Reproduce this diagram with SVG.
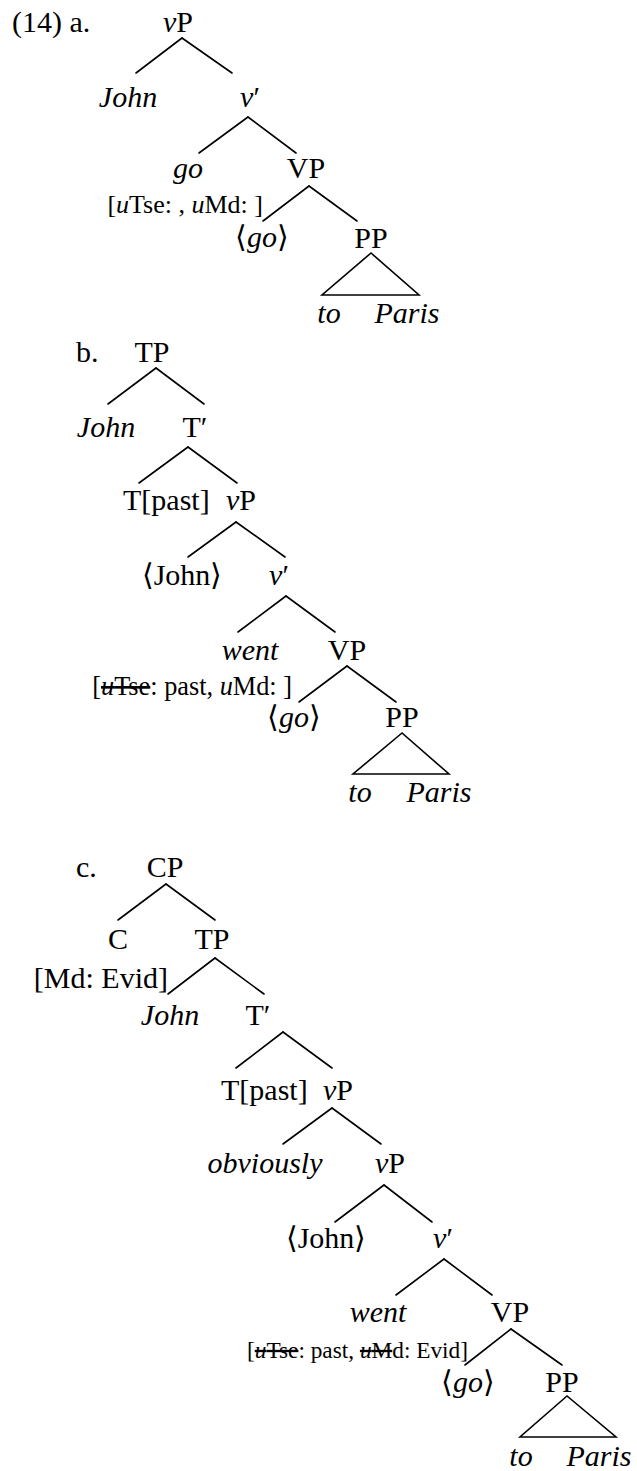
<svg xmlns="http://www.w3.org/2000/svg" width="637" height="1471" viewBox="0 0 637 1471">
<style>
text{font-family:"Liberation Serif","Times New Roman",serif;font-size:30px;fill:#000}
.m{text-anchor:middle}
.e{text-anchor:end}
.i{font-style:italic}
.f{font-size:26px}
.s{text-decoration:line-through}
.c line,.c polygon{stroke:#000;stroke-width:1.6;fill:none;stroke-linecap:round}
</style>
<rect width="637" height="1471" fill="#fff"/>
<g id="labels">
<text x="12" y="32">(14) a.</text>
<text x="76" y="362">b.</text>
<text x="76" y="877">c.</text>
</g>
<g id="tree-a">
<g id="a-vP"><text class="m" x="178" y="32"><tspan class="i">v</tspan>P</text></g>
<g id="a-John"><text class="m i" x="128" y="107">John</text></g>
<g id="a-vbar"><text class="m" x="250" y="107"><tspan class="i">v</tspan>′</text></g>
<g id="a-go"><text class="m i" x="188" y="178">go</text><text class="e f" x="263" y="213">[<tspan class="i">u</tspan>Tse: , <tspan class="i">u</tspan>Md: ]</text></g>
<g id="a-VP"><text class="m" x="306" y="178">VP</text></g>
<g id="a-trace"><text class="m" x="262" y="247">⟨<tspan class="i">go</tspan>⟩</text></g>
<g id="a-PP"><text class="m" x="371" y="248">PP</text></g>
<g id="a-toParis"><text class="m i" x="329" y="323">to</text><text class="m i" x="407" y="323">Paris</text></g>
</g>
<g id="tree-b">
<g id="b-TP"><text class="m" x="152" y="362">TP</text></g>
<g id="b-John"><text class="m i" x="106" y="437">John</text></g>
<g id="b-Tbar"><text class="m" x="195" y="437">T′</text></g>
<g id="b-Tpast"><text x="123" y="510">T[past]</text></g>
<g id="b-vP"><text x="226" y="510"><tspan class="i">v</tspan>P</text></g>
<g id="b-Johntrace"><text class="m" x="182" y="585">⟨John⟩</text></g>
<g id="b-vbar"><text class="m" x="279" y="585"><tspan class="i">v</tspan>′</text></g>
<g id="b-went"><text class="m i" x="250" y="660">went</text><text class="e f" x="292" y="695" style="font-size:26.3px">[<tspan class="s"><tspan class="i">u</tspan>Tse</tspan>: past, <tspan class="i">u</tspan>Md: ]</text></g>
<g id="b-VP"><text class="m" x="347" y="660">VP</text></g>
<g id="b-trace"><text class="m" x="294" y="727">⟨<tspan class="i">go</tspan>⟩</text></g>
<g id="b-PP"><text class="m" x="402" y="727">PP</text></g>
<g id="b-toParis"><text class="m i" x="360" y="802">to</text><text class="m i" x="439" y="802">Paris</text></g>
</g>
<g id="tree-c">
<g id="c-CP"><text class="m" x="165" y="877">CP</text></g>
<g id="c-C"><text class="m" x="118" y="949">C</text><text class="e" x="168" y="988">[Md: Evid]</text></g>
<g id="c-TP"><text class="m" x="212" y="949">TP</text></g>
<g id="c-John"><text class="m i" x="170" y="1025">John</text></g>
<g id="c-Tbar"><text class="m" x="258" y="1025">T′</text></g>
<g id="c-Tpast"><text x="221" y="1100">T[past]</text></g>
<g id="c-vP1"><text x="323" y="1100"><tspan class="i">v</tspan>P</text></g>
<g id="c-obviously"><text class="m i" x="265" y="1173">obviously</text></g>
<g id="c-vP2"><text class="m" x="390" y="1173"><tspan class="i">v</tspan>P</text></g>
<g id="c-Johntrace"><text class="m" x="326" y="1248">⟨John⟩</text></g>
<g id="c-vbar"><text class="m" x="443" y="1248"><tspan class="i">v</tspan>′</text></g>
<g id="c-went"><text class="m i" x="378" y="1322">went</text><text class="e f" x="468" y="1358" style="font-size:23.3px">[<tspan class="s"><tspan class="i">u</tspan>Tse</tspan>: past, <tspan class="s"><tspan class="i">u</tspan>M</tspan>d: Evid]</text></g>
<g id="c-VP"><text class="m" x="510" y="1322">VP</text></g>
<g id="c-trace"><text class="m" x="468" y="1392">⟨<tspan class="i">go</tspan>⟩</text></g>
<g id="c-PP"><text class="m" x="562" y="1392">PP</text></g>
<g id="c-toParis"><text class="m i" x="521" y="1466">to</text><text class="m i" x="599" y="1466">Paris</text></g>
</g>
<g id="connectors" class="c">
<line x1="182" y1="38" x2="136" y2="73"/><line x1="182" y1="38" x2="232" y2="73"/>
<line x1="248" y1="117" x2="199" y2="153"/><line x1="248" y1="117" x2="296" y2="153"/>
<line x1="309" y1="186" x2="263" y2="221"/><line x1="309" y1="186" x2="357" y2="221"/>
<polygon points="371,253 322,295 419,295"/>
<line x1="156" y1="368" x2="108" y2="404"/><line x1="156" y1="368" x2="204" y2="404"/>
<line x1="188" y1="447" x2="139" y2="483"/><line x1="188" y1="447" x2="237" y2="483"/>
<line x1="236" y1="522" x2="188" y2="557"/><line x1="236" y1="522" x2="285" y2="557"/>
<line x1="286" y1="596" x2="238" y2="632"/><line x1="286" y1="596" x2="335" y2="632"/>
<line x1="347" y1="666" x2="299" y2="702"/><line x1="347" y1="666" x2="396" y2="702"/>
<polygon points="402,733 353,774 449,774"/>
<line x1="166" y1="884" x2="118" y2="920"/><line x1="166" y1="884" x2="215" y2="920"/>
<line x1="215" y1="958" x2="168" y2="994"/><line x1="215" y1="958" x2="264" y2="994"/>
<line x1="283" y1="1032" x2="236" y2="1068"/><line x1="283" y1="1032" x2="332" y2="1068"/>
<line x1="332" y1="1108" x2="283" y2="1144"/><line x1="332" y1="1108" x2="381" y2="1144"/>
<line x1="384" y1="1185" x2="335" y2="1222"/><line x1="384" y1="1185" x2="432" y2="1222"/>
<line x1="444" y1="1259" x2="396" y2="1295"/><line x1="444" y1="1259" x2="492" y2="1295"/>
<line x1="511" y1="1329" x2="465" y2="1365"/><line x1="511" y1="1329" x2="562" y2="1365"/>
<polygon points="567,1396 520,1437 616,1437"/>
</g>
</svg>
